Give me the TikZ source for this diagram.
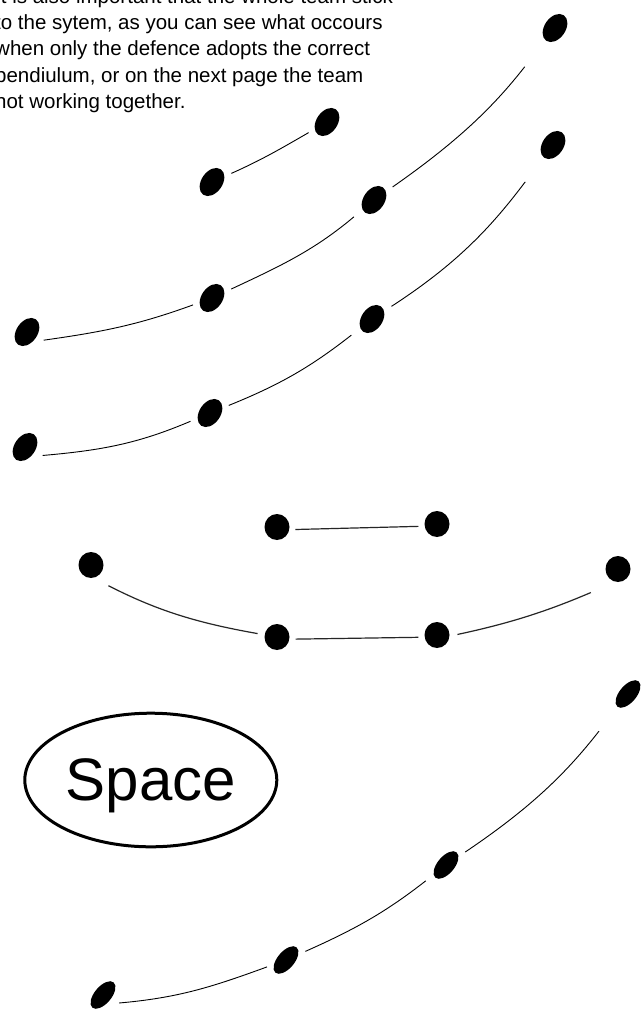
\documentclass[tikz,border=0pt]{standalone}
\usepackage{fontspec}
\setmainfont{Liberation Sans}
\usetikzlibrary{shapes.geometric}
\begin{document}
\begin{tikzpicture}[x=1pt,y=1pt,
  tdot/.style={circle, inner sep=0pt, minimum size=32pt},
  bdot/.style={circle, inner sep=0pt, minimum size=34pt},
  tfill/.style={ellipse, fill=black, inner sep=0pt, minimum width=21pt, minimum height=31pt, rotate=-35},
  bfill/.style={ellipse, fill=black, inner sep=0pt, minimum width=17pt, minimum height=33pt, rotate=-40},
  mdot/.style={ellipse, fill=black, inner sep=0pt, minimum width=25pt, minimum height=26pt},
  link/.style={draw=black, line width=0.9pt},
  mlink/.style={draw=black!85, line width=1.2pt},
  txt/.style={anchor=base west, inner sep=0pt, font=\fontsize{20.5}{26}\selectfont}]
\useasboundingbox (0,-1010) rectangle (641,0);
\clip (0,-1010) rectangle (641,0);
\fill[white] (0,-1010) rectangle (641,0);

% text
\node[txt] (l1) at (-5,-3.2) {It is also important that the whole team stick};
\node[txt] (l2) at (-5,-29.5) {to the sytem, as you can see what occours};
\node[txt] (l3) at (-5,-55.8) {when only the defence adopts the correct};
\node[txt] (l4) at (-5,-82.1) {pendiulum, or on the next page the team};
\node[txt] (l5) at (-5,-108.4) {not working together.};

% top dots
\node[tdot] (T1) at (555,-28) {};
\node[tdot] (T2) at (327,-122) {};
\node[tdot] (T3) at (212,-182) {};
\node[tdot] (T4) at (374,-200) {};
\node[tdot] (T5) at (553,-145) {};
\node[tdot] (T6) at (212,-298) {};
\node[tdot] (T7) at (372,-319) {};
\node[tdot] (T8) at (27,-332) {};
\node[tdot] (T9) at (210,-413) {};
\node[tdot] (T10) at (25,-447) {};
\foreach \n in {T1,T2,T3,T4,T5,T6,T7,T8,T9,T10}
  \node[tfill] (\n f) at (\n) {};

\draw[link, shorten <=5pt, shorten >=5pt] (T3) to[out=24,in=210] (T2);
\draw[link, shorten <=3pt, shorten >=4pt] (T8.-32) to[out=8,in=200] (T6);
\draw[link, shorten <=5pt, shorten >=10pt] (T6) to[out=25,in=220] (T4);
\draw[link, shorten <=6.5pt, shorten >=33pt] (T4) to[out=35,in=232] (T1);
\draw[link, shorten <=4pt, shorten >=5pt] (T10.-33) to[out=5,in=203] (T9);
\draw[link, shorten <=4pt, shorten >=10pt] (T9) to[out=22,in=218] (T7);
\draw[link, shorten <=7pt, shorten >=30pt] (T7) to[out=33,in=233] (T5);

% middle dots
\node[mdot] (M1) at (277,-527) {};
\node[mdot] (M2) at (437,-524) {};
\node[mdot] (M3) at (91,-565) {};
\node[mdot] (M4) at (618,-569) {};
\node[mdot] (M5) at (277,-637) {};
\node[mdot] (M6) at (437,-635) {};

\draw[mlink, shorten <=6pt, shorten >=6pt] (M1.-12) -- (M2.190);
\draw[mlink, shorten <=6pt, shorten >=6pt] (M5.-10) -- (M6.190);
\draw[mlink, shorten <=17pt, shorten >=7pt] (M3.-80) to[out=-27,in=170] (M5);
\draw[mlink, shorten <=8pt, shorten >=27pt] (M6.-5) to[out=12,in=203] (M4.260);

% Space ellipse
\node[ellipse, draw=black, line width=3pt, minimum width=252pt, minimum height=133.6pt,
      inner sep=0pt, text height=44pt, text depth=4pt,
      font=\fontsize{60}{60}\selectfont] (S) at (150.8,-780) {Space};

% bottom dots
\node[bdot] (B1) at (628,-694) {};
\node[bdot] (B2) at (446,-865) {};
\node[bdot] (B3) at (286,-960) {};
\node[bdot] (B4) at (103,-995) {};
\foreach \n in {B1,B2,B3,B4}
  \node[bfill] (\n f) at (\n) {};

\draw[link, shorten <=1pt, shorten >=3pt] (B4.-28) to[out=5,in=200] (B3);
\draw[link, shorten <=4pt, shorten >=8.5pt] (B3) to[out=24,in=218] (B2);
\draw[link, shorten <=6pt, shorten >=30pt] (B2) to[out=34,in=232] (B1);
\end{tikzpicture}
\end{document}
